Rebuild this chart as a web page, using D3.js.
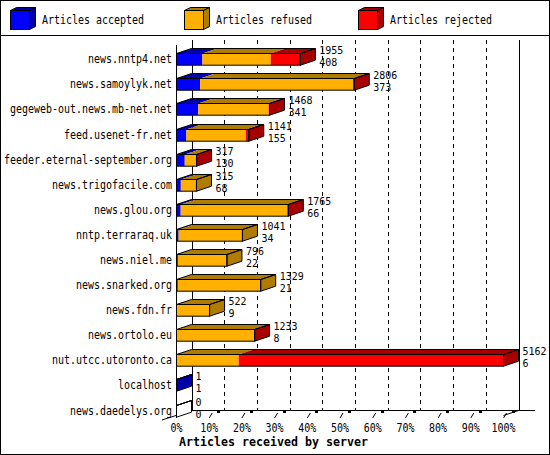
<!DOCTYPE html>
<html>
<head>
<meta charset="utf-8">
<script src="https://cdn.jsdelivr.net/npm/d3@7"></script>
<style>
body{margin:0;background:#fff;}
text{font-family:"DejaVu Sans Mono",monospace;font-size:12px;fill:#000;}
text.num{font-size:11px;}
</style>
</head>
<body>
<svg id="chart" width="550" height="455"></svg>
<script>
var servers = ["news.nntp4.net","news.samoylyk.net","gegeweb-out.news.mb-net.net","feed.usenet-fr.net",
	"feeder.eternal-september.org","news.trigofacile.com","news.glou.org","nntp.terraraq.uk","news.niel.me",
	"news.snarked.org","news.fdn.fr","news.ortolo.eu","nut.utcc.utoronto.ca","localhost","news.daedelys.org"];
var totals   = [1955,2806,1468,1141,317,315,1765,1041,796,1329,522,1233,5162,1,0];
var accepted = [408,373,341,155,130,68,66,34,22,21,9,8,6,1,0];
var refused  = [1079,2415,1115,941,185,247,1687,1007,774,1308,513,1222,976,0,0];
var rejected = [468,18,12,45,2,0,12,0,0,0,0,3,4180,0,0];
var legendNames = ["Articles accepted","Articles refused","Articles rejected"];
var pctTicks = [0,10,20,30,40,50,60,70,80,90,100];

var colors = ["#0000ff","#ffb000","#ff0000"];
var shades = ["#0000a8","#b07c00","#a80000"];
var dx = 15, dy = 5; //3d depth offset

var svg = d3.select("#chart");

//text in the gd fonts is fixed width, force it
var fixText = function(sel, w){
	sel.attr("textLength", function(){ return this.textContent.length*w; })
		.attr("lengthAdjust","spacingAndGlyphs");
};

svg.append("rect").attr("x",0.5).attr("y",0.5).attr("width",549).attr("height",454)
	.attr("fill","#fff").attr("stroke","#000");
svg.append("line").attr("x1",0).attr("x2",550).attr("y1",35.5).attr("y2",35.5).attr("stroke","#000");

// legend
var leg = svg.selectAll("g.leg").data(legendNames).enter().append("g")
	.attr("transform", function(d,i){ return "translate(" + (10+174*i) + ",0)"; });
leg.append("polygon").attr("points","0.5,10.5 6.5,7.5 25.5,7.5 19.5,10.5")
	.attr("fill", function(d,i){ return shades[i]; }).attr("stroke","#000");
leg.append("polygon").attr("points","19.5,10.5 25.5,7.5 25.5,26.5 19.5,29.5")
	.attr("fill", function(d,i){ return shades[i]; }).attr("stroke","#000");
leg.append("rect").attr("x",0.5).attr("y",10.5).attr("width",19).attr("height",19)
	.attr("fill", function(d,i){ return colors[i]; }).attr("stroke","#000");
leg.append("text").attr("x",32).attr("y",24).text(function(d){ return d; }).call(fixText,6);

// scales
var x = d3.scaleLinear().domain([0, d3.max(totals)]).range([176.5, 503.5]);
var xp = d3.scaleLinear().domain([0, 100]).range([176.5, 503.5]);
var y = d3.scaleBand().domain(servers).range([42, 427.5]).paddingInner(0.534).paddingOuter(0.45);
var bh = y.bandwidth();

// back wall grid
var grid = svg.append("g").attr("shape-rendering","crispEdges");
grid.selectAll("line.g").data(pctTicks).enter().append("line")
	.attr("x1", function(d){ return Math.round(xp(d)+dx)+0.5; })
	.attr("x2", function(d){ return Math.round(xp(d)+dx)+0.5; })
	.attr("y1", 40).attr("y2", 410)
	.attr("stroke","#000")
	.attr("stroke-dasharray", function(d){ return (d===0||d===100) ? null : "4,4"; });
grid.append("line").attr("x1",191).attr("x2",535).attr("y1",410.5).attr("y2",410.5).attr("stroke","#000");
svg.append("line").attr("x1",162).attr("y1",420).attr("x2",191.5).attr("y2",410.5).attr("stroke","#000");
svg.append("line").attr("x1",xp(100)+dx).attr("y1",410.5).attr("x2",xp(100)).attr("y2",415.5).attr("stroke","#000");

// bars
var series = [accepted, refused, rejected];
servers.forEach(function(name, i){
	var top = Math.round(y(name)) + 0.5;
	var g = svg.append("g");
	var cum = 0, last = -1;
	series.forEach(function(vals, s){
		var v = vals[i];
		if(v <= 0){ return; }
		var x0 = x(cum), x1 = x(cum+v);
		g.append("polygon")
			.attr("points", [[x0,top],[x0+dx,top-dy],[x1+dx,top-dy],[x1,top]].join(" "))
			.attr("fill", shades[s]);
		g.append("rect").attr("x",x0).attr("y",top).attr("width",x1-x0).attr("height",bh)
			.attr("fill", colors[s]);
		cum += v;
		last = s;
	});
	var xe = x(totals[i]), xs = x(0);
	var side = last < 0 ? "#fff" : shades[last];
	g.append("polygon")
		.attr("points", [[xe,top],[xe+dx,top-dy],[xe+dx,top+bh-dy],[xe,top+bh]].join(" "))
		.attr("fill", side).attr("stroke","#000");
	g.append("polygon")
		.attr("points", [[xs,top],[xs+dx,top-dy],[xe+dx,top-dy],[xe,top]].join(" "))
		.attr("fill","none").attr("stroke","#000");
	g.append("rect").attr("x",xs).attr("y",top).attr("width",xe-xs).attr("height",bh)
		.attr("fill","none").attr("stroke","#000");

	svg.append("text").attr("x",172).attr("y",top+9.5).attr("text-anchor","end")
		.text(name).call(fixText,6);
	svg.append("text").attr("class","num").attr("x",xe+dx+4).attr("y",top)
		.text(totals[i]).call(fixText,6);
	svg.append("text").attr("class","num").attr("x",xe+dx+4).attr("y",top+12)
		.text(accepted[i]).call(fixText,6);
});

// front left axis
svg.append("line").attr("x1",176.5).attr("x2",176.5).attr("y1",45).attr("y2",418).attr("stroke","#000");

// x ticks with their little 3d marks
var ticks = svg.append("g");
ticks.selectAll("line.t").data(pctTicks.slice(1)).enter().append("line")
	.attr("x1", function(d){ return xp(d); }).attr("y1",418)
	.attr("x2", function(d){ return xp(d)+3; }).attr("y2",413)
	.attr("stroke","#000");
ticks.selectAll("rect.t").data(pctTicks.slice(1)).enter().append("rect")
	.attr("x", function(d){ return Math.round(xp(d))+8; }).attr("y",411)
	.attr("width",3).attr("height",2).attr("fill","#000");
ticks.selectAll("text").data(pctTicks).enter().append("text")
	.attr("x", function(d){ return xp(d); }).attr("y",432).attr("text-anchor","middle")
	.text(function(d){ return d + "%"; }).call(fixText,6);

svg.append("text").attr("x",179).attr("y",446).attr("font-weight","bold")
	.text("Articles received by server").call(fixText,7);
</script>
</body>
</html>
